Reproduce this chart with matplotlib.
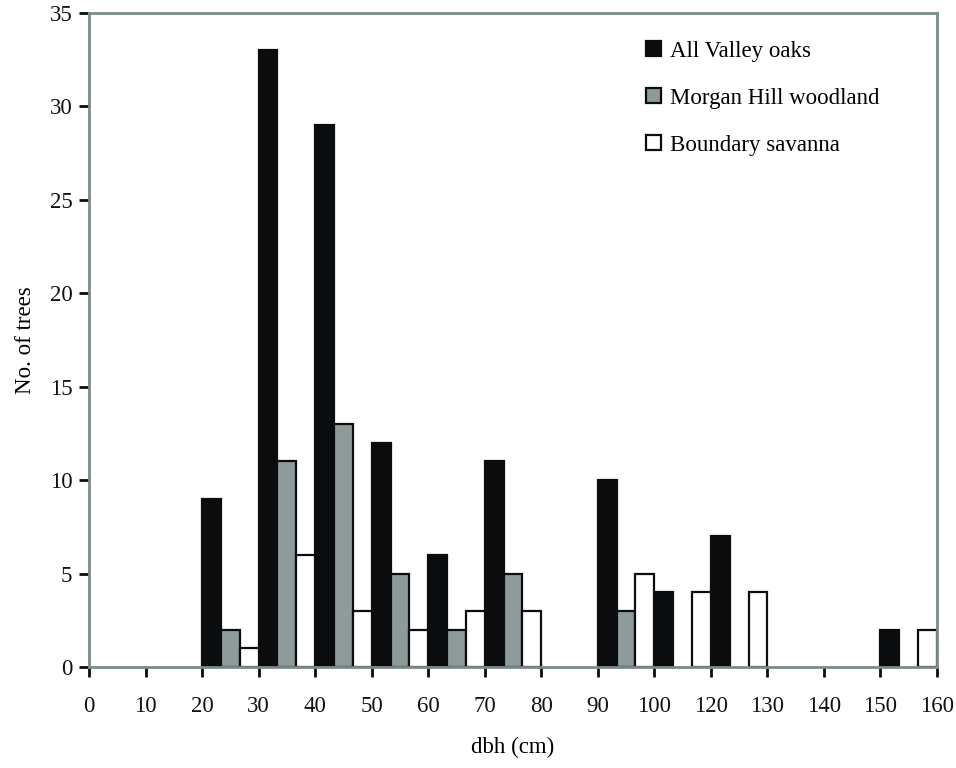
import matplotlib
matplotlib.use("Agg")
import matplotlib.pyplot as plt
import numpy as np

# dbh bins (cm) -- boundary labels, note the 100-120 bin
tick_labels = ['0', '10', '20', '30', '40', '50', '60', '70', '80', '90',
               '100', '120', '130', '140', '150', '160']
all_valley = [0, 0, 9, 33, 29, 12, 6, 11, 0, 10, 4, 7, 0, 0, 2]
morgan_hill = [0, 0, 2, 11, 13, 5, 2, 5, 0, 3, 0, 0, 0, 0, 0]
boundary = [0, 0, 1, 6, 3, 2, 3, 3, 0, 5, 4, 4, 0, 0, 2]
series_names = ['All Valley oaks', 'Morgan Hill woodland', 'Boundary savanna']

plt.rcParams['font.family'] = ['Liberation Serif', 'DejaVu Serif']

fig = plt.figure(figsize=(9.56, 7.68), dpi=100)
ax = fig.add_axes([0.0931, 0.1315, 0.8870, 0.8515])

n = len(all_valley)
idx = np.arange(n)
w = 1 / 3
frame = '#7a8c88'
fs = 16.5

series = [all_valley, morgan_hill, boundary]
colors = ['#0a0c0e', '#8f9b9b', 'white']
for k, (vals, col, name) in enumerate(zip(series, colors, series_names)):
    vals = np.array(vals, dtype=float)
    vals[vals == 0] = np.nan
    ax.bar(idx + w * (k + 0.5), vals, width=w, color=col, edgecolor='#0a0c0e',
           linewidth=1.6, align='center', label=name)

ax.set_xlim(0, n)
ax.set_ylim(0, 35)
ax.set_xticks(np.arange(n + 1))
ax.set_xticklabels(tick_labels)
ax.set_yticks(np.arange(0, 36, 5))

for s in ax.spines.values():
    s.set_color(frame)
    s.set_linewidth(2)

ax.tick_params(axis='both', direction='out', length=7, width=2, color='#0a0c0e',
               labelsize=fs, colors='#0a0c0e')
ax.tick_params(axis='x', pad=14)
ax.tick_params(axis='y', pad=5)
for t in ax.get_xticklabels() + ax.get_yticklabels():
    t.set_color('#111111')

ax.set_xlabel('dbh (cm)', fontsize=fs, labelpad=14)
ax.set_ylabel('No. of trees', fontsize=fs, labelpad=10)

leg = ax.legend(loc='upper left', bbox_to_anchor=(0.657, 0.958), frameon=False,
                fontsize=fs, handlelength=0.65, handleheight=0.65, handletextpad=0.4,
                labelspacing=1.14, borderpad=0, borderaxespad=0)

fig.savefig('out.png', dpi=100)
